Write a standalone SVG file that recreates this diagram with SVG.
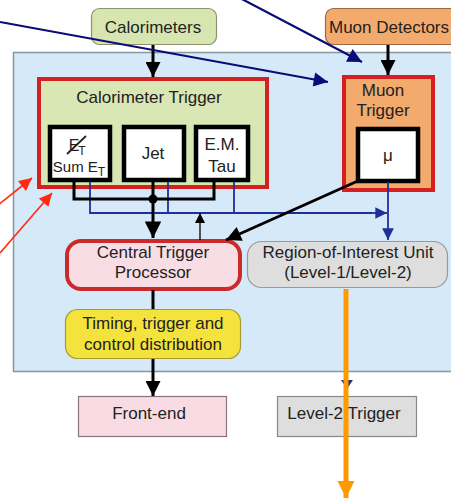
<svg xmlns="http://www.w3.org/2000/svg" width="451" height="499" viewBox="0 0 451 499">
<defs>
<style>
text{font-family:"Liberation Sans",Arial,sans-serif;font-size:17px;fill:#222;text-anchor:middle}
.inner{fill:#fff;stroke:#000;stroke-width:4.5}
.blk{stroke:#000;stroke-width:3;fill:none}
.blu{stroke:#1f2f9a;stroke-width:1.8;fill:none}
</style>
<marker id="ab" viewBox="0 0 10 10" refX="10" refY="5" markerWidth="5.5" markerHeight="5" markerUnits="strokeWidth" orient="auto"><path d="M0,0L10,5L0,10z" fill="#000"/></marker>
<marker id="abL" viewBox="0 0 10 10" refX="10" refY="5" markerWidth="6.8" markerHeight="5.5" markerUnits="strokeWidth" orient="auto"><path d="M0,0L10,5L0,10z" fill="#000"/></marker>
<marker id="abt" viewBox="0 0 10 10" refX="10" refY="5" markerWidth="8" markerHeight="10" markerUnits="strokeWidth" orient="auto"><path d="M0,0L10,5L0,10z" fill="#000"/></marker>
<marker id="au" viewBox="0 0 10 10" refX="10" refY="5" markerWidth="9" markerHeight="6.5" markerUnits="strokeWidth" orient="auto"><path d="M0,0L10,5L0,10z" fill="#1f2f9a"/></marker>
<marker id="an" viewBox="0 0 10 10" refX="10" refY="5" markerWidth="7" markerHeight="6.5" markerUnits="strokeWidth" orient="auto"><path d="M0,0L10,5L0,10z" fill="#0a0a78"/></marker>
<marker id="ar" viewBox="0 0 10 10" refX="10" refY="5" markerWidth="9" markerHeight="8" markerUnits="strokeWidth" orient="auto"><path d="M0,0L10,5L0,10z" fill="#ff2a10"/></marker>
<marker id="ao" viewBox="0 0 10 10" refX="10" refY="5" markerWidth="3.4" markerHeight="3.6" markerUnits="strokeWidth" orient="auto"><path d="M0,0L10,5L0,10z" fill="#ff9900"/></marker>
</defs>
<rect width="451" height="499" fill="#fff"/>
<rect id="level1" x="13.5" y="52.5" width="450" height="319" fill="#d6e9f8" stroke="#8a979c" stroke-width="1.5"/>

<g id="calorimeters"><rect x="91.5" y="8.5" width="125" height="36" rx="8" fill="#d7e6b0" stroke="#8f9070" stroke-width="1.2"/><text x="153" y="33">Calorimeters</text></g>
<g id="muon-detectors"><rect x="325.5" y="8.5" width="132" height="36" rx="8" fill="#f2ab6c" stroke="#9a6a48" stroke-width="1.2"/><text x="389" y="33">Muon Detectors</text></g>

<g id="calorimeter-trigger"><rect x="39" y="79" width="228" height="108" fill="#d9e7b4" stroke="#d42020" stroke-width="4"/><text x="149" y="103">Calorimeter Trigger</text></g>
<g id="muon-trigger"><rect x="344" y="77" width="89" height="113" fill="#f2ab6c" stroke="#d42020" stroke-width="4"/><text x="383" y="96">Muon</text><text x="383" y="116">Trigger</text></g>

<g id="et-box"><rect class="inner" x="50" y="127" width="60" height="53"/>
<text x="74" y="151" style="font-size:16px">E</text><text x="82" y="155" style="font-size:12px">T</text>
<line x1="67" y1="154" x2="86" y2="136" stroke="#222" stroke-width="1.8"/>
<text x="79" y="172" style="font-size:15px">Sum E<tspan dy="4" style="font-size:12px">T</tspan></text></g>
<g id="jet-box"><rect class="inner" x="124" y="127" width="60" height="53"/><text x="153" y="159">Jet</text></g>
<g id="emtau-box"><rect class="inner" x="196" y="127" width="52" height="53"/><text x="222" y="150">E.M.</text><text x="222" y="172">Tau</text></g>
<g id="mu-box"><rect class="inner" x="358" y="129" width="60" height="52"/><text x="388" y="161">μ</text></g>

<g id="ctp"><rect x="67" y="241" width="173" height="48" rx="14" fill="#f9dde4" stroke="#cc2a2a" stroke-width="4"/><text x="153" y="258">Central Trigger</text><text x="153" y="278">Processor</text></g>
<g id="roi"><rect x="247.5" y="241.5" width="200" height="46" rx="14" fill="#dedede" stroke="#999" stroke-width="1.2"/><text x="348" y="258">Region-of-Interest Unit</text><text x="348" y="278">(Level-1/Level-2)</text></g>
<g id="ttc"><rect x="65.5" y="309.5" width="175" height="49" rx="12" fill="#f4e33c" stroke="#a89a30" stroke-width="1.2"/><text x="153" y="329">Timing, trigger and</text><text x="153" y="350">control distribution</text></g>
<g id="front-end"><rect x="78.5" y="396.5" width="148" height="40" fill="#f9dce3" stroke="#8a7080" stroke-width="1.2"/><text x="149" y="419">Front-end</text></g>
<g id="level2"><rect x="277.5" y="396.5" width="139" height="40" fill="#dedede" stroke="#888" stroke-width="1.2"/><text x="344" y="419">Level-2 Trigger</text></g>

<g id="connectors">
<line class="blk" x1="153" y1="45" x2="153" y2="77" marker-end="url(#ab)"/>
<line class="blk" x1="388" y1="45" x2="388" y2="75" marker-end="url(#ab)"/>
<polyline class="blu" points="90,182 90,213 372,213"/>
<line class="blu" x1="168" y1="182" x2="168" y2="213"/>
<line class="blu" x1="234" y1="182" x2="234" y2="213"/>
<line class="blu" x1="370" y1="213" x2="387" y2="213" marker-end="url(#au)"/>
<line class="blu" x1="388" y1="182" x2="388" y2="240" marker-end="url(#au)"/>
<polyline class="blk" points="74,181 74,199 214,199 214,181"/>
<line class="blk" x1="153" y1="181" x2="153" y2="238" marker-end="url(#abL)"/>
<circle cx="153" cy="199" r="4.5" fill="#000"/>
<line x1="200" y1="240" x2="200" y2="213" stroke="#000" stroke-width="1.3" marker-end="url(#abt)"/>
<line class="blk" x1="360" y1="180" x2="226" y2="240" stroke-width="4" marker-end="url(#ab)"/>
<line class="blk" x1="153" y1="290" x2="153" y2="309"/>
<line class="blk" x1="153" y1="359" x2="153" y2="396" marker-end="url(#ab)"/>
<path d="M341,380L353,380L347,389z" fill="#1f2f9a"/>
<line x1="346" y1="289" x2="346" y2="498" stroke="#ff9900" stroke-width="5" marker-end="url(#ao)"/>
<line x1="-2" y1="205" x2="32" y2="178" stroke="#ff2a10" stroke-width="1.6" marker-end="url(#ar)"/>
<line x1="0" y1="253" x2="52" y2="193" stroke="#ff2a10" stroke-width="1.6" marker-end="url(#ar)"/>
<line x1="0" y1="22" x2="328" y2="82" stroke="#0a0a78" stroke-width="2.2" marker-end="url(#an)"/>
<line x1="238" y1="-3" x2="362" y2="62" stroke="#0a0a78" stroke-width="2.2" marker-end="url(#an)"/>
</g>
</svg>
